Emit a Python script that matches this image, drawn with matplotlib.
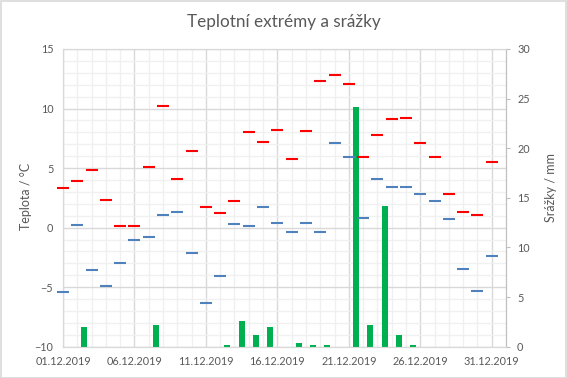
import numpy as np
import matplotlib
matplotlib.use("Agg")
import matplotlib.pyplot as plt
from matplotlib.patches import Rectangle
from matplotlib.ticker import MultipleLocator

plt.rcParams["font.family"] = ["Lato", "DejaVu Sans"]

# daily values, December 2019
days = list(range(1, 32))
t_max = [3.3, 3.9, 4.8, 2.3, 0.1, 0.1, 5.1, 10.2, 4.1, 6.4,
         1.7, 1.2, 2.2, 8.0, 7.2, 8.2, 5.8, 8.1, 12.3, 12.8,
         12.1, 5.9, 7.8, 9.1, 9.2, 7.1, 5.9, 2.8, 1.3, 1.1, 5.5]
t_min = [-5.4, 0.2, -3.6, -4.9, -3.0, -1.0, -0.8, 1.1, 1.3, -2.1,
         -6.3, -4.1, 0.3, 0.1, 1.7, 0.4, -0.4, 0.4, -0.4, 7.1,
         5.9, 0.8, 4.1, 3.4, 3.4, 2.8, 2.2, 0.7, -3.5, -5.3, -2.4]
rain = [0.0, 2.0, 0.0, 0.0, 0.0, 0.0, 2.2, 0.0, 0.0, 0.0,
        0.0, 0.2, 2.6, 1.2, 2.0, 0.0, 0.4, 0.2, 0.2, 0.0,
        24.2, 2.2, 14.2, 1.2, 0.2, 0.0, 0.0, 0.0, 0.0, 0.0, 0.0]
tick_days = [1, 6, 11, 16, 21, 26, 31]
tick_labels = ["%02d.12.2019" % d for d in tick_days]

txt = "#595959"
grid_major = "#D9D9D9"
grid_minor = "#F0F0F0"

fig = plt.figure(figsize=(5.67, 3.78), dpi=100)
rect = [63 / 567, 1 - 346.7 / 378, (506 - 63) / 567, (346.7 - 49) / 378]

x = np.arange(len(days))

# primary axis: grid + temperature scale
ax = fig.add_axes(rect)
ax.set_xlim(0, 31)
ax.set_ylim(-10, 15)
ax.yaxis.set_major_locator(MultipleLocator(5))
ax.yaxis.set_minor_locator(MultipleLocator(1))
ax.set_xticks([d - 1 for d in tick_days])
ax.set_xticklabels(tick_labels)
ax.xaxis.set_minor_locator(MultipleLocator(1))
ax.grid(True, which="major", color=grid_major, lw=1.0)
ax.grid(True, which="minor", color=grid_minor, lw=1.0)
ax.set_axisbelow(True)
ax.tick_params(which="both", length=0, colors=txt, labelsize=7.8)
ax.tick_params(axis="y", pad=7)
ax.tick_params(axis="x", pad=7)
for s in ax.spines.values():
    s.set_color(grid_major)

# secondary axis: precipitation bars
ax2 = ax.twinx()
ax2.bar(x + 0.5, rain, width=0.42, color="#00B050", zorder=2)
ax2.set_ylim(0, 30)
ax2.yaxis.set_major_locator(MultipleLocator(5))
ax2.tick_params(axis="y", length=3, color="#BFBFBF", colors=txt, labelsize=7.8, pad=5)
ax2.tick_params(axis="y", which="minor", length=0)
for s in ax2.spines.values():
    s.set_color(grid_major)
ax2.spines["right"].set_color("#BFBFBF")

# top layer: temperature extremes
ax3 = fig.add_axes(rect, sharex=ax, sharey=ax)
ax3.axis("off")
ax3.plot(x, t_max, ls="none", marker="_", ms=8.5, mew=1.5, color="#FF0000", clip_on=False)
ax3.plot(x, t_min, ls="none", marker="_", ms=8.5, mew=1.5, color="#4F81BD", clip_on=False)

fig.text(284 / 567, 1 - 22 / 378, "Teplotní extrémy a srážky", ha="center", va="center",
         fontsize=12.3, color=txt)
fig.text(26 / 567, 1 - 196 / 378, "Teplota / °C", rotation=90, ha="center", va="center",
         fontsize=9, color=txt)
fig.text(551 / 567, 1 - 188 / 378, "Srážky / mm", rotation=90, ha="center", va="center",
         fontsize=9, color=txt)

fig.patches.append(Rectangle((0.001, 0.001), 0.997, 0.997, transform=fig.transFigure,
                             fill=False, edgecolor=grid_major, lw=1.2))

fig.savefig("out.png", dpi=100)
